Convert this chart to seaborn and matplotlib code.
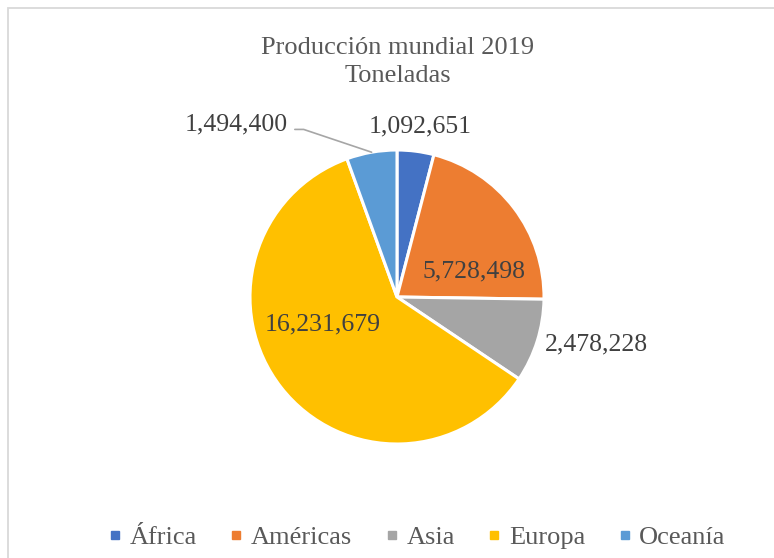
import matplotlib
matplotlib.use("Agg")
import matplotlib.pyplot as plt
from matplotlib.patches import Rectangle
from matplotlib.lines import Line2D
import numpy as np
import seaborn as sns

# Data
regiones = ["África", "Américas", "Asia", "Europa", "Oceanía"]
toneladas = [1092651, 5728498, 2478228, 16231679, 1494400]
colores = ["#4472C4", "#ED7D31", "#A5A5A5", "#FFC000", "#5B9BD5"]
titulo = "Producción mundial 2019\nToneladas"

# Label placement in pie-radius units (centre of each value label)
pos_etiquetas = [(0.156, 1.16), (0.524, 0.175), (1.36, -0.32), (-0.503, -0.185), (-1.095, 1.175)]

sns.set_theme(style="white")
plt.rcParams["font.family"] = ["Liberation Serif", "DejaVu Serif"]

W, H = 774, 558
fig = plt.figure(figsize=(W / 100, H / 100), dpi=100)
fig.patch.set_facecolor("white")

# Outer chart frame (top and left visible)
fig.add_artist(Rectangle((7.5 / W, -0.2), 1.2, 1.2 - 7.5 / H,
                         transform=fig.transFigure, fill=False,
                         edgecolor="#D9D9D9", linewidth=1.3))

cx, cy, r = 397, 297, 147
ax = fig.add_axes([(cx - r) / W, (H - cy - r) / H, 2 * r / W, 2 * r / H])
wedges, _ = ax.pie(toneladas, colors=colores, startangle=90, counterclock=False,
                   radius=1.0, wedgeprops=dict(edgecolor="white", linewidth=2.2))
ax.set_xlim(-1, 1)
ax.set_ylim(-1, 1)
ax.set_aspect("equal")
ax.axis("off")

for v, (x, y) in zip(toneladas, pos_etiquetas):
    ax.text(x, y, f"{v:,}", ha="center", va="center", fontsize=18.5,
            color="#404040", clip_on=False)

# Leader line for the Oceanía label
total = sum(toneladas)
ang = 90 + 360 * (toneladas[-1] / total) / 2
ex, ey = np.cos(np.radians(ang)), np.sin(np.radians(ang))
lx, ly = pos_etiquetas[-1]
ax.add_line(Line2D([lx + 0.40, lx + 0.46, ex], [ly - 0.035, ly - 0.035, ey],
                   color="#A6A6A6", linewidth=1.2, clip_on=False))

fig.text(398 / W, 1 - 62 / H, titulo, ha="center", va="center", fontsize=19,
         color="#595959", linespacing=1.4)

handles = [Line2D([], [], marker="s", linestyle="none", markersize=5.5,
                  markerfacecolor=c, markeredgecolor=c) for c in colores]
fig.legend(handles, regiones, loc="center", bbox_to_anchor=(417 / W, 1 - 537 / H),
           ncol=5, frameon=False, fontsize=19, handlelength=0.5,
           handletextpad=0.3, columnspacing=1.25, labelcolor="#595959")

fig.savefig("out.png", dpi=100, facecolor="white")
